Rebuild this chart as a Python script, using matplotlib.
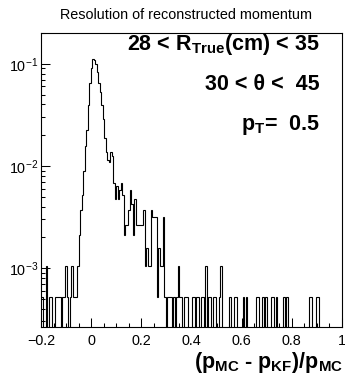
import numpy as np
import matplotlib
matplotlib.use('Agg')
import matplotlib.pyplot as plt
from matplotlib.ticker import MultipleLocator, LogLocator, NullFormatter

plt.rcParams['font.family'] = ['Liberation Sans', 'DejaVu Sans']
plt.rcParams['mathtext.fontset'] = 'custom'
plt.rcParams['mathtext.rm'] = 'Liberation Sans'
plt.rcParams['mathtext.it'] = 'Liberation Sans:italic'
plt.rcParams['mathtext.bf'] = 'Liberation Sans:bold'

# histogram: 200 bins on [-0.2, 1.0], entries per bin
x_lo, x_hi, n_bins = -0.2, 1.0, 200
counts = [
    1, 0, 0, 2, 0, 1, 1, 0, 0, 1, 1, 1, 1, 0, 1, 1, 2, 1, 0, 1, 2, 1, 1, 1,
    2, 4, 7, 10, 17, 30, 43, 75, 123, 172, 214, 205, 190, 158, 123, 100,
    75, 55, 36, 26, 22, 21, 26, 24, 13, 9, 12, 9, 11, 13, 10, 4, 5, 5, 7, 11,
    8, 4, 9, 5, 5, 5, 5, 5, 7, 2, 3, 2, 2, 7, 6, 6, 6, 1, 3, 2, 2, 6, 1,
    0, 1, 1, 1, 0, 1, 0, 1, 2, 1, 1, 0, 1, 1, 1, 0, 0, 1, 1, 0, 1, 1, 0, 1, 1,
    0, 2, 0, 1, 1, 0, 1, 1, 0, 0, 1, 2, 0, 0, 0, 0, 0, 1, 0, 0, 1, 1, 0, 0, 0,
    0, 1, 0, 1, 0, 0, 0, 0, 0, 0, 1, 1, 0, 0, 1, 0, 1, 0, 0, 0, 1, 1, 0, 1, 0,
    0, 0, 0, 1, 0, 1, 0, 0, 0, 0, 0, 0, 0, 0, 0, 0, 0, 0, 0, 0, 1, 1, 0, 0, 0,
    1, 1, 0, 0, 0, 0, 0, 0, 0, 0, 0, 0, 0, 0, 0, 0, 0,
]
entry_weight = 5.25e-4

xticks = [-0.2, 0.0, 0.2, 0.4, 0.6, 0.8, 1.0]
xtick_labels = ['\u22120.2', '0', '0.2', '0.4', '0.6', '0.8', '1']
y_lo, y_hi = 2.65e-4, 0.2

title = 'Resolution of reconstructed momentum'
cut_lines = ['28 < R$_{\\mathbf{True}}$(cm) < 35',
             '30 < \u03b8 <  45',
             'p$_{\\mathbf{T}}$=  0.5']
xlabel = '(p$_{\\mathbf{MC}}$ - p$_{\\mathbf{KF}}$)/p$_{\\mathbf{MC}}$'

fig = plt.figure(figsize=(3.45, 3.78), dpi=100)
ax = fig.add_axes([41/345, 51/378, 301/345, 294/378])

edges = np.linspace(x_lo, x_hi, n_bins + 1)
vals = np.array(counts, dtype=float) * entry_weight
vals = np.where(vals > 0, vals, 1e-9)
ax.stairs(vals, edges, baseline=None, color='black', lw=0.8)

ax.set_yscale('log')
ax.set_xlim(x_lo, x_hi)
ax.set_ylim(y_lo, y_hi)
ax.set_xticks(xticks)
ax.set_xticklabels(xtick_labels)
ax.xaxis.set_minor_locator(MultipleLocator(0.05))
ax.yaxis.set_major_locator(LogLocator(base=10))
ax.yaxis.set_minor_locator(LogLocator(base=10, subs=np.arange(2, 10)))
ax.yaxis.set_minor_formatter(NullFormatter())
ax.tick_params(which='both', direction='in', top=False, right=False, width=0.75,
               labelsize=10.4, colors='black')
ax.tick_params(which='major', length=6.5)
ax.tick_params(which='minor', length=3.2)
ax.tick_params(axis='x', pad=5)
ax.tick_params(axis='y', pad=2)
for s in ax.spines.values():
    s.set_linewidth(0.8)

fig.text(186.5/345, 1 - 15/378, title, ha='center', va='center', fontsize=10.4)

for txt, yb in zip(cut_lines, [0.942, 0.806, 0.670]):
    ax.text(0.927, yb, txt, transform=ax.transAxes, ha='right', va='baseline',
            fontsize=15.5, fontweight='bold')

fig.text(343/345, 1 - 368/378, xlabel, ha='right', va='baseline',
         fontsize=15.5, fontweight='bold')

fig.savefig('out.png', dpi=100)
